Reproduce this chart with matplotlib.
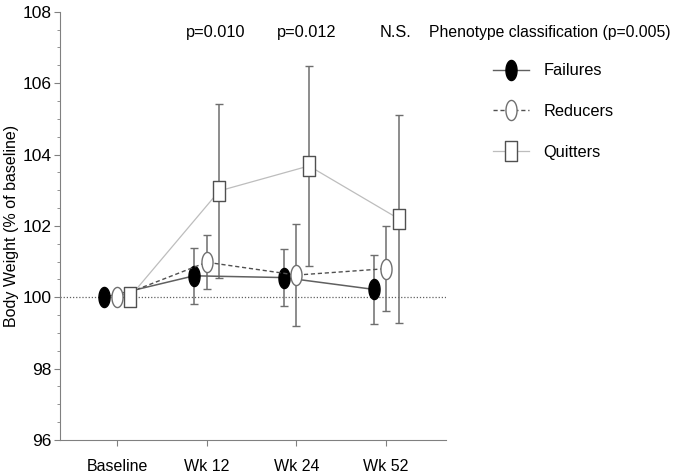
import numpy as np
import matplotlib
matplotlib.use("Agg")
import matplotlib.pyplot as plt
from matplotlib.path import Path
from matplotlib.lines import Line2D
from matplotlib.ticker import MultipleLocator

plt.rcParams['font.family'] = ['Liberation Sans', 'DejaVu Sans']

# data
timepoints = ['Baseline', 'Wk 12', 'Wk 24', 'Wk 52']
failures = [100.0, 100.6, 100.55, 100.22]
failures_err = [0.0, 0.78, 0.8, 0.97]
reducers = [100.0, 100.98, 100.62, 100.8]
reducers_err = [0.0, 0.76, 1.42, 1.2]
quitters = [100.0, 102.98, 103.68, 102.2]
quitters_err = [0.0, 2.45, 2.8, 2.92]
pvalues = ['p=0.010', 'p=0.012', 'N.S.']
overall = 'Phenotype classification (p=0.005)'

# tall ellipse marker
t = np.linspace(0, 2 * np.pi, 60)
ellipse = Path(np.column_stack([0.55 * np.cos(t), np.sin(t)]), closed=True)
# tall rectangle marker
rect = Path([(-0.6, -1), (0.6, -1), (0.6, 1), (-0.6, 1), (-0.6, -1)], closed=True)

fig = plt.figure(figsize=(6.75, 4.73), dpi=100)
ax = fig.add_axes([0.089, 0.07, 0.572, 0.905])

x = np.arange(len(timepoints))
off = 0.14
ebc = '#6e6e6e'

series = [
    (failures, failures_err, -off, dict(marker=ellipse, mfc='black', mec='black',
                                         color='#606060', ls='-', lw=1.1)),
    (reducers, reducers_err, 0, dict(marker=ellipse, mfc='white', mec='#707070',
                                      color='#505050', ls=(0, (3, 2)), lw=1.0)),
    (quitters, quitters_err, off, dict(marker=rect, mfc='white', mec='#505050',
                                        color='#bdbdbd', ls='-', lw=0.9)),
]

ax.axhline(100, color='#606060', ls=(0, (1, 1.5)), lw=0.9, zorder=1)

for vals, err, dx, st in series:
    xe = x + dx
    ax.errorbar(xe[1:], vals[1:], yerr=err[1:], fmt='none', ecolor=ebc,
                elinewidth=1.1, capsize=3, capthick=1.0, zorder=2)
    ax.plot(xe, vals, markersize=14.5, mew=1.0, zorder=3, **st)

ax.set_xlim(-0.635, 3.67)
ax.set_ylim(96, 108)
ax.set_xticks(x)
ax.set_xticklabels(timepoints, fontsize=11.5)
ax.yaxis.set_major_locator(MultipleLocator(2))
ax.yaxis.set_minor_locator(MultipleLocator(0.5))
ax.tick_params(axis='y', labelsize=12.5, length=4, color='#808080', pad=2)
ax.tick_params(axis='y', which='minor', length=2, color='#808080')
ax.tick_params(axis='x', length=4, color='#808080', pad=10)
for s in ['top', 'right']:
    ax.spines[s].set_visible(False)
for s in ['left', 'bottom']:
    ax.spines[s].set_color('#808080')
ax.set_ylabel('Body Weight (% of baseline)', fontsize=11.5, labelpad=3)

# p-values
for xi, p in zip([1.1, 2.11, 3.1], pvalues):
    ax.text(xi, 107.42, p, ha='center', va='center', fontsize=11.8)
fig.text(0.636, 0.932, overall, ha='left', va='center', fontsize=11.3)

# legend
handles = [
    Line2D([], [], marker=ellipse, mfc='black', mec='black', color='#606060',
           ls='-', lw=1.0, markersize=14.5),
    Line2D([], [], marker=ellipse, mfc='white', mec='#707070', color='#505050',
           ls=(0, (3, 2)), lw=1.0, markersize=14.5),
    Line2D([], [], marker=rect, mfc='white', mec='#505050', color='#bdbdbd',
           ls='-', lw=0.9, markersize=14.5),
]
fig.legend(handles, ['Failures', 'Reducers', 'Quitters'], loc='upper left',
           bbox_to_anchor=(0.72, 0.88), frameon=False, fontsize=11.8,
           handlelength=2.2, handletextpad=0.9, labelspacing=1.58,
           borderaxespad=0)

fig.savefig('out.png', dpi=100)
